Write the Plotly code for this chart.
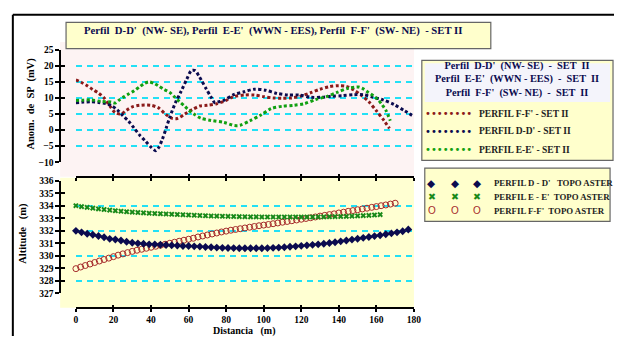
import plotly.graph_objects as go

# ---------------- DATA ----------------
# Top panel: SP anomaly (mV) vs distance (m)
ff_sp_x = [0, 3, 6, 9, 12, 15, 18, 21, 24, 27, 30, 34, 40, 44, 48, 51, 54, 58, 62, 66,
           70, 75, 80, 84, 90, 95, 100, 105, 110, 115, 120, 125, 130, 135, 140, 144, 148, 152, 156, 160,
           164, 167]
ff_sp_y = [15.6, 14.8, 13.8, 12.6, 11.5, 10.0, 7.5, 5.4, 5.0, 6.2, 7.2, 7.7, 7.7, 6.9, 4.8, 3.7, 3.6, 5.0, 6.4, 7.5,
           7.7, 8.2, 9.2, 10.4, 10.9, 10.9, 10.4, 10.0, 9.9, 10.0, 10.6, 11.6, 12.7, 13.5, 13.8, 13.6, 12.5, 10.8, 8.8, 6.0,
           3.0, 0.5]

dd_sp_x = [0, 4, 8, 12, 16, 19, 22, 25, 28, 31, 34, 37, 40, 42.5, 44, 46, 48, 50, 53, 56,
           59, 61.5, 63.5, 65.5, 67, 69.5, 72, 74, 76, 79, 84, 89.5, 95, 101, 107, 113, 119, 125, 131, 136,
           142, 148, 153, 158, 163.5, 169.5, 175, 180]
dd_sp_y = [8.5, 8.7, 8.8, 8.6, 8.2, 7.6, 6.3, 4.5, 2.8, 0.6, -1.6, -3.4, -5.3, -6.4, -5.5, -2.9, 0.5, 4.0, 8.5, 12.0,
           15.8, 18.5, 18.5, 16.8, 15.3, 12.7, 10.2, 8.5, 8.8, 9.3, 11.0, 11.9, 12.7, 12.4, 11.4, 10.9, 10.9, 10.2, 10.2, 10.5,
           10.7, 11.0, 11.0, 10.2, 9.4, 7.9, 6.0, 4.2]

ee_sp_x = [0, 4, 8, 13.5, 18.7, 21, 23, 25.7, 28, 31, 34, 36.5, 39, 42, 44, 47, 50, 52.5, 55, 58,
           60, 63, 66.5, 72, 78.7, 84.5, 87.5, 92.7, 98.5, 104, 110, 116, 121.6, 127.7, 133.4, 139, 145, 150.4, 153, 155.7,
           158.5, 161, 163, 165, 167.4]
ee_sp_y = [9.2, 9.3, 9.4, 8.9, 8.7, 8.4, 9.3, 10.4, 11.2, 12.2, 13.5, 14.5, 15.0, 14.4, 13.7, 12.6, 11.7, 10.3, 8.9, 7.4,
           6.2, 4.9, 3.7, 3.0, 2.4, 1.4, 1.5, 2.9, 4.7, 6.7, 7.4, 7.7, 8.2, 9.5, 10.4, 11.7, 13.0, 13.4, 12.8, 11.7,
           10.6, 9.4, 7.9, 6.2, 2.9]

# Bottom panel: ASTER topography altitude (m)
dd_topo_x = list(range(0, 178, 3))
dd_topo_y = [331.99, 331.87, 331.76, 331.68, 331.58, 331.48, 331.35, 331.30, 331.22, 331.12,
             331.04, 330.99, 330.96, 330.91, 330.91, 330.88, 330.86, 330.83, 330.81, 330.78,
             330.78, 330.75, 330.73, 330.70, 330.68, 330.65, 330.63, 330.62, 330.61, 330.60,
             330.60, 330.60, 330.60, 330.60, 330.61, 330.63, 330.65, 330.68, 330.72, 330.75,
             330.79, 330.83, 330.87, 330.91, 330.96, 331.02, 331.08, 331.15, 331.22, 331.29,
             331.36, 331.43, 331.50, 331.57, 331.64, 331.72, 331.79, 331.87, 331.96, 332.10]

ee_topo_x = list(range(0, 163, 3))
ee_topo_y = [334.00, 333.93, 333.87, 333.81, 333.75, 333.70, 333.65, 333.60, 333.56, 333.52,
             333.49, 333.46, 333.43, 333.40, 333.38, 333.36, 333.34, 333.32, 333.30, 333.28,
             333.26, 333.24, 333.22, 333.20, 333.18, 333.17, 333.16, 333.15, 333.14, 333.13,
             333.12, 333.11, 333.11, 333.10, 333.10, 333.10, 333.10, 333.10, 333.10, 333.10,
             333.10, 333.10, 333.10, 333.11, 333.11, 333.12, 333.13, 333.14, 333.15, 333.17,
             333.19, 333.21, 333.23, 333.26, 333.29]

ff_topo_x = [i * 2.5 for i in range(69)]
ff_topo_y = [328.97, 329.10, 329.22, 329.34, 329.46, 329.58, 329.70, 329.81, 329.93, 330.05,
             330.15, 330.25, 330.35, 330.44, 330.52, 330.60, 330.68, 330.76, 330.84, 330.92,
             331.00, 331.08, 331.16, 331.24, 331.32, 331.40, 331.50, 331.58, 331.66, 331.74,
             331.82, 331.90, 331.97, 332.04, 332.10, 332.16, 332.22, 332.28, 332.34, 332.40,
             332.45, 332.50, 332.56, 332.62, 332.68, 332.74, 332.80, 332.86, 332.92, 332.98,
             333.04, 333.10, 333.17, 333.23, 333.29, 333.35, 333.42, 333.48, 333.55, 333.61,
             333.68, 333.74, 333.80, 333.87, 333.93, 334.00, 334.06, 334.13, 334.20]

x_ticks = [0, 20, 40, 60, 80, 100, 120, 140, 160, 180]

title_text = "Perfil  D-D'  (NW- SE), Perfil  E-E'  (WWN - EES), Perfil  F-F'  (SW- NE)  - SET II"
header_lines = ["Perfil  D-D'  (NW- SE)  -  SET  II",
                "Perfil  E-E'  (WWN - EES)  -  SET  II",
                "Perfil  F-F'  (SW- NE)  -  SET  II"]
sp_names = ["PERFIL F-F' - SET II", "PERFIL D-D' - SET II", "PERFIL E-E' - SET II"]
topo_names = ["PERFIL D - D'   TOPO ASTER", "PERFIL E - E'  TOPO ASTER", "PERFIL F-F'  TOPO ASTER"]

# ---------------- STYLE ----------------
W, H = 621, 341
NAVY = "#0b0b4f"
MAROON = "#8b1a1a"
GREEN = "#11a011"
XGREEN = "#1a8a1a"
CRED = "#a52a2a"
CYAN = "#22e0f5"
SERIF = "Liberation Serif"


def X(p):
    return p / W


def Y(p):
    return 1 - p / H


fig = go.Figure()

# top panel dotted lines
for xs, ys, col, nm in [(ff_sp_x, ff_sp_y, MAROON, sp_names[0]),
                        (dd_sp_x, dd_sp_y, NAVY, sp_names[1]),
                        (ee_sp_x, ee_sp_y, GREEN, sp_names[2])]:
    fig.add_trace(go.Scatter(x=xs, y=ys, mode="lines", name=nm, xaxis="x2", yaxis="y2",
                             line=dict(color=col, width=3, dash="3px,2.4px", shape="spline", smoothing=0.8),
                             showlegend=False, cliponaxis=False))

# bottom panel markers
fig.add_trace(go.Scatter(x=ff_topo_x, y=ff_topo_y, mode="markers", name=topo_names[2],
                         marker=dict(symbol="circle-open", size=6, color=CRED, line=dict(width=1, color=CRED)),
                         showlegend=False, cliponaxis=False))
fig.add_trace(go.Scatter(x=ee_topo_x, y=ee_topo_y, mode="markers", name=topo_names[1],
                         marker=dict(symbol="x", size=5, color=XGREEN),
                         showlegend=False, cliponaxis=False))
fig.add_trace(go.Scatter(x=dd_topo_x, y=dd_topo_y, mode="markers", name=topo_names[0],
                         marker=dict(symbol="diamond", size=6, color=NAVY),
                         showlegend=False, cliponaxis=False))

# invisible helper traces so that overlay axes are drawn
for xa, ya in [("x3", "y"), ("x4", "y2"), ("x", "y3"), ("x", "y4"), ("x2", "y5")]:
    fig.add_trace(go.Scatter(x=[None], y=[None], xaxis=xa, yaxis=ya, showlegend=False, hoverinfo="skip"))

xtickfont = dict(family=SERIF, size=9.5, color="black", weight="bold")
ytickfont = dict(family=SERIF, size=9.5, color="black", weight="bold")
xdom = [X(75), X(418)]
common_x = dict(range=[0, 180], tickmode="array", tickvals=x_ticks, showgrid=False, zeroline=False,
                tickcolor="black", tickwidth=1.5, ticklen=3)

fig.update_layout(
    width=W, height=H, margin=dict(l=0, r=0, t=0, b=0),
    paper_bgcolor="white", plot_bgcolor="rgba(0,0,0,0)",
    showlegend=False, hovermode=False,
    xaxis=dict(domain=xdom, anchor="free", position=Y(312), showline=True, linecolor="black", linewidth=1.5,
               ticks="outside", showticklabels=True, tickfont=xtickfont, **common_x),
    xaxis3=dict(overlaying="x", anchor="free", position=Y(312), showline=False, ticks="inside",
                showticklabels=False, **common_x),
    xaxis2=dict(domain=xdom, anchor="free", position=Y(177), showline=True, linecolor="black", linewidth=1.5,
                ticks="outside", showticklabels=False, **common_x),
    xaxis4=dict(overlaying="x2", anchor="free", position=Y(177), showline=False, ticks="inside",
                showticklabels=False, **common_x),
    yaxis=dict(domain=[Y(297), Y(181)], range=[327, 336], dtick=1, anchor="free", position=X(59),
               showline=True, linecolor="black", linewidth=1.5, ticks="outside", ticklen=4, tickwidth=1.5,
               tickcolor="black", tickfont=ytickfont, showgrid=False, zeroline=False),
    yaxis3=dict(overlaying="y", range=[327, 336], tick0=328, dtick=2, anchor="free", position=X(59),
                showline=False, ticks="", showticklabels=False, showgrid=True, gridcolor=CYAN,
                gridwidth=2, griddash="6px,5px", zeroline=False),
    yaxis4=dict(overlaying="y", range=[327, 336], dtick=1, anchor="free", position=X(59),
                showline=False, ticks="inside", ticklen=4, tickwidth=1.5, tickcolor="black",
                showticklabels=False, showgrid=False, zeroline=False),
    yaxis2=dict(domain=[Y(162), Y(46)], range=[-10, 25], dtick=5, anchor="free", position=X(59),
                showline=True, linecolor="black", linewidth=1.5, ticks="outside", ticklen=4, tickwidth=1.5,
                tickcolor="black", tickfont=ytickfont, showgrid=True, gridcolor=CYAN, gridwidth=2,
                griddash="6px,5px", zeroline=False),
    yaxis5=dict(overlaying="y2", range=[-10, 25], dtick=5, anchor="free", position=X(59),
                showline=False, ticks="inside", ticklen=4, tickwidth=1.5, tickcolor="black",
                showticklabels=False, showgrid=False, zeroline=False),
)

shapes = [
    # panel backgrounds
    dict(type="rect", xref="paper", yref="paper", x0=X(59), x1=X(418), y0=Y(177), y1=Y(38),
         fillcolor="#fdf3f3", line=dict(width=0), layer="below"),
    dict(type="rect", xref="paper", yref="paper", x0=X(59), x1=X(418), y0=Y(312), y1=Y(178),
         fillcolor="#ffffd2", line=dict(width=0), layer="below"),
    # outer frame (left and top)
    dict(type="line", xref="paper", yref="paper", x0=X(11), x1=X(11), y0=0, y1=Y(10),
         line=dict(color="black", width=2)),
    dict(type="line", xref="paper", yref="paper", x0=X(11), x1=1, y0=Y(10), y1=Y(10),
         line=dict(color="black", width=2)),
    # title box
    dict(type="rect", xref="paper", yref="paper", x0=X(65), x1=X(496), y0=Y(45), y1=Y(18),
         fillcolor="#ffffcc", line=dict(color="#666666", width=1.2), layer="above"),
    # legend box 1
    dict(type="rect", xref="paper", yref="paper", x0=X(426), x1=X(620), y0=Y(160), y1=Y(57),
         fillcolor="#ffffcc", line=dict(color="#666666", width=1.2), layer="above"),
    dict(type="rect", xref="paper", yref="paper", x0=X(429), x1=X(617), y0=Y(100), y1=Y(60),
         fillcolor="#f4f4fb", line=dict(width=0), layer="above"),
    # legend box 2
    dict(type="rect", xref="paper", yref="paper", x0=X(429), x1=X(617), y0=Y(223), y1=Y(168),
         fillcolor="#ffffcc", line=dict(color="#666666", width=1.2), layer="above"),
]
fig.update_layout(shapes=shapes)

ann = []


def text(t, px, py, size, color="black", xanchor="center", angle=0, family=SERIF, bold=True):
    ann.append(dict(text=t, x=X(px), y=Y(py), xref="paper", yref="paper", showarrow=False,
                    xanchor=xanchor, yanchor="middle", textangle=angle,
                    font=dict(family=family, size=size, color=color, weight="bold" if bold else "normal")))


text(title_text, 275, 26, 10.7, NAVY)
text("<br>".join(header_lines), 523, 77, 10.3, NAVY)
for i, (nm, col) in enumerate(zip(sp_names, [MAROON, NAVY, GREEN])):
    yy = [112, 130, 149][i]
    text("••••••••", 427, yy, 10, col, xanchor="left", family="DejaVu Sans", bold=False)
    text(nm, 482, yy, 9.5, "#222222", xanchor="left")

legend2 = [("◆", NAVY, 10.5, "DejaVu Sans"), ("✖", XGREEN, 9.5, "DejaVu Sans"), ("O", CRED, 10, "Liberation Sans")]
for i, (g, col, sz, fam) in enumerate(legend2):
    yy = [183, 197.5, 212][i]
    for gx in [436, 460, 482]:
        text(g, gx, yy, sz, col, family=fam, bold=False)
    text(topo_names[i], 497, yy, 8.8, "#222222", xanchor="left")

text("Anom.  de  SP  (mV)", 29, 102, 10.5, "black", angle=-90)
text("Altitude   (m)", 21, 235, 10.5, "black", angle=-90)
text("Distancia   (m)", 246, 335.5, 10, "black")

fig.update_layout(annotations=ann)

fig.write_html("out.html", config={"displayModeBar": False},
               post_script="document.body.style.margin='0';document.body.style.overflow='hidden';")
